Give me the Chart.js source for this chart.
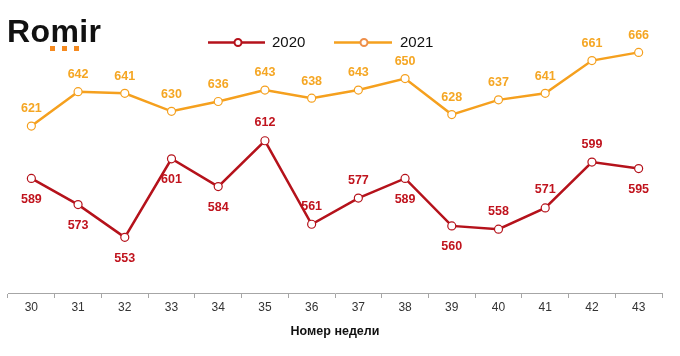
<!DOCTYPE html>
<html><head><meta charset="utf-8">
<script src="https://cdn.jsdelivr.net/npm/chart.js@4.4.1/dist/chart.umd.min.js"></script>
<style>
html,body{margin:0;padding:0;background:#fff;}
#wrap{position:relative;width:680px;height:356px;overflow:hidden;font-family:"Liberation Sans",Arial,sans-serif;}
#c{position:absolute;left:0;top:0;}
#overlay{position:absolute;left:0;top:0;}
.logo{position:absolute;left:7px;top:11px;font-weight:bold;font-size:32px;line-height:40px;color:#111;letter-spacing:0.4px;}
.leg{position:absolute;font-size:15px;line-height:18px;color:#111;}
</style>
</head><body>
<div id="wrap">
  <canvas id="c" width="680" height="356"></canvas>
  <svg id="overlay" width="680" height="356">
    <rect x="50" y="46" width="5" height="5" fill="#F58A1F"/>
    <rect x="62" y="46" width="5" height="5" fill="#F58A1F"/>
    <rect x="74" y="46" width="5" height="5" fill="#F58A1F"/>
    <line x1="208" y1="42.5" x2="265" y2="42.5" stroke="#B5121B" stroke-width="2.5"/>
    <circle cx="238" cy="42.5" r="3.5" fill="#fff" stroke="#B5121B" stroke-width="2"/>
    <line x1="334" y1="42.5" x2="392" y2="42.5" stroke="#F5A01E" stroke-width="2.5"/>
    <circle cx="364" cy="42.5" r="3.5" fill="#fff" stroke="#EE8F4A" stroke-width="2"/>
  </svg>
  <div class="logo">Romir</div>
  <div class="leg" style="left:272px;top:33px;">2020</div>
  <div class="leg" style="left:400px;top:33px;">2021</div>
</div>
<script>
const weeks = ['30','31','32','33','34','35','36','37','38','39','40','41','42','43'];
const values2020 = [589, 573, 553, 601, 584, 612, 561, 577, 589, 560, 558, 571, 599, 595];
const values2021 = [621, 642, 641, 630, 636, 643, 638, 643, 650, 628, 637, 641, 661, 666];
const labelSide2020 = ['below','below','below','below','below','above','above','above','below','below','above','above','above','below'];
const labelSide2021 = ['above','above','above','above','above','above','above','above','above','above','above','above','above','above'];
const axisTitle = 'Номер недели';

const RED = '#B5121B', RED_TXT = '#C0141E';
const ORANGE = '#F5A01E', ORANGE_TXT = '#F5A623';

const valueLabels = {
  id: 'valueLabels',
  afterDatasetsDraw(chart, args, opts) {
    const ctx = chart.ctx;
    chart.data.datasets.forEach((ds, i) => {
      const meta = chart.getDatasetMeta(i);
      const sides = opts.sides[i];
      ctx.save();
      ctx.font = 'bold 12.5px "Liberation Sans", Arial, sans-serif';
      ctx.fillStyle = opts.colors[i];
      ctx.textAlign = 'center';
      ctx.textBaseline = 'middle';
      meta.data.forEach((pt, j) => {
        const dy = sides[j] === 'above' ? -opts.above[i] : opts.below;
        ctx.fillText(String(ds.data[j]), pt.x, pt.y + dy);
      });
      ctx.restore();
    });
  }
};

new Chart(document.getElementById('c'), {
  type: 'line',
  data: {
    labels: weeks,
    datasets: [
      { label: '2020', data: values2020, borderColor: RED, backgroundColor: '#fff',
        borderWidth: 2.5, pointRadius: 4, pointBorderWidth: 1.2, pointBackgroundColor: '#fff',
        pointBorderColor: RED, tension: 0 },
      { label: '2021', data: values2021, borderColor: ORANGE, backgroundColor: '#fff',
        borderWidth: 2.5, pointRadius: 4, pointBorderWidth: 1.2, pointBackgroundColor: '#fff',
        pointBorderColor: ORANGE, tension: 0 }
    ]
  },
  options: {
    responsive: false,
    animation: false,
    devicePixelRatio: 1,
    layout: { autoPadding: false, padding: { left: 8, right: 18, top: 0, bottom: 0 } },
    plugins: {
      legend: { display: false },
      tooltip: { enabled: false },
      valueLabels: {
        sides: [labelSide2020, labelSide2021],
        colors: [RED_TXT, ORANGE_TXT],
        above: [18, 17],
        below: 21
      }
    },
    scales: {
      x: {
        offset: true,
        afterFit: s => { s.height = 63; },
        grid: { drawOnChartArea: false, drawTicks: true, tickLength: 5, color: '#a6a6a6', offset: true },
        border: { display: true, color: '#a6a6a6', width: 1 },
        ticks: { color: '#333', font: { family: '"Liberation Sans", Arial, sans-serif', size: 12 }, padding: 2, maxRotation: 0, autoSkip: false },
        title: { display: true, text: axisTitle, color: '#111',
          font: { family: '"Liberation Sans", Arial, sans-serif', size: 12.5, weight: 'bold' },
          padding: { top: 0, bottom: 17 } }
      },
      y: { display: false, min: 519, max: 698 }
    }
  },
  plugins: [valueLabels]
});
</script>
</body></html>
